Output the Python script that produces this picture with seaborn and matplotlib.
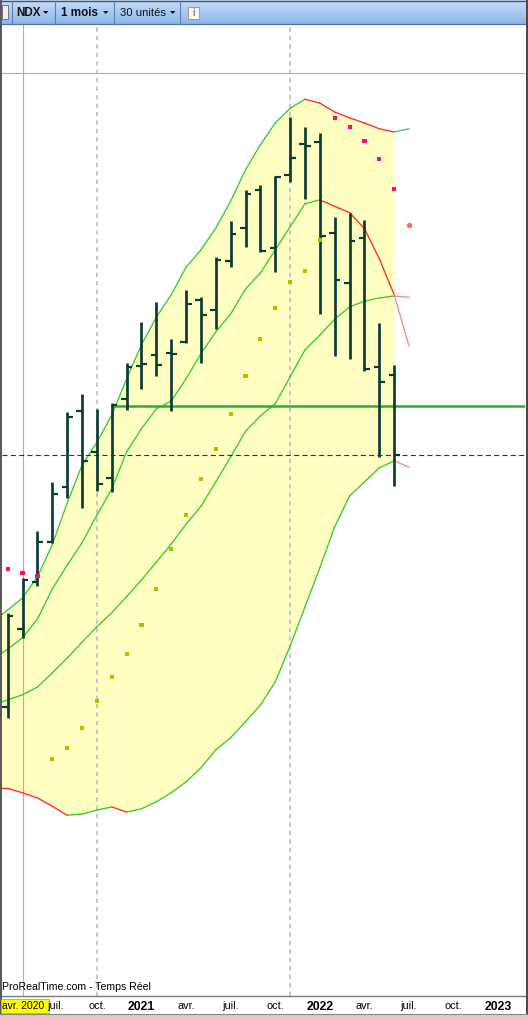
import numpy as np
import pandas as pd
import matplotlib
matplotlib.use("Agg")
import matplotlib.pyplot as plt
import seaborn as sns
from matplotlib.patches import Rectangle
from matplotlib.colors import LinearSegmentedColormap

# ---------------- data (NDX monthly) ----------------
months = pd.period_range("2020-04", "2022-06", freq="M").strftime("%Y-%m").tolist()

open_ = [7570, 8790, 9520, 10140, 11000, 12190, 11550, 11140, 12370, 12890, 13060, 13090, 13260,
         13920, 13760, 14530, 15040, 15630, 14730, 15870, 16350, 16380, 14960, 14180, 14890, 12870, 12750]
high_ = [9040, 9580, 10310, 11080, 12170, 12450, 12220, 12310, 12940, 13580, 13890, 13310, 14070,
         13960, 14590, 15150, 15630, 15710, 15850, 16770, 16620, 16520, 15210, 15280, 15170, 13560, 12900]
low_ = [7400, 8650, 9460, 10130, 10830, 10670, 10940, 10920, 12200, 12530, 12730, 12190, 13250,
        12940, 13470, 14430, 14750, 14670, 14360, 15760, 15490, 13700, 13040, 13000, 12810, 11470, 11020]
close_ = [8990, 9550, 10140, 10890, 12090, 11410, 11050, 12280, 12870, 12920, 12900, 13080, 13860,
          13680, 14540, 14950, 15570, 14680, 15840, 16130, 16320, 14920, 14230, 14840, 12840, 12640, 11500]

# bands: from 2020-03 (off the left edge) to 2022-07 (projection)
band_months = pd.period_range("2020-03", "2022-07", freq="M").strftime("%Y-%m").tolist()
upper_band = [8900, 9080, 9270, 9600, 10100, 10750, 11340, 11700, 12120, 12690, 13220, 13650, 14000,
              14430, 14700, 15040, 15460, 15950, 16340, 16680, 16910, 17050, 16990, 16850, 16760,
              16680, 16590, 16540, 16590]
inner_line = [8320, 8470, 8650, 8940, 9410, 9780, 10130, 10560, 10970, 11550, 11910, 12220, 12340,
              12690, 13080, 13420, 13700, 14090, 14340, 14700, 15060, 15420, 15480, 15380, 15280,
              15030, 14560, 14000, 13200]
middle_band = [7600, 7680, 7760, 7880, 8100, 8330, 8580, 8820, 9040, 9290, 9550, 9830, 10110,
               10420, 10700, 11080, 11470, 11870, 12110, 12300, 12720, 13140, 13370, 13620, 13810,
               13900, 13950, 13980, 13960]
lower_band = [6300, 6300, 6230, 6150, 6020, 5880, 5900, 5960, 6010, 5930, 5980, 6090, 6230,
              6400, 6620, 6900, 7090, 7340, 7600, 7960, 8520, 9130, 9740, 10380, 10860,
              11080, 11300, 11410, 11310]

# parabolic SAR
sar = [9720, 9660, 9610, 6760, 6930, 7240, 7660, 8040, 8400, 8850, 9410, 10030, 10560,
       11130, 11590, 12140, 12730, 13310, 13790, 14200, 14370, 14850, 16760, 16620, 16400, 16120, 15650]
sar_side = ["above"] * 3 + ["below"] * 19 + ["above"] * 5
sar_next_month = "2022-07"
sar_next = 15090

support_level = 12260
support_from = "2020-11"
last_price = 11500
cursor_price = 17460
cursor_month = "2020-05"
grid_months = ["2020-10", "2021-11"]

tick_months = ["2020-04", "2020-07", "2020-10", "2021-01", "2021-04", "2021-07", "2021-10",
               "2022-01", "2022-04", "2022-07", "2022-10", "2023-01"]
tick_labels = ["", "juil.", "oct.", "2021", "avr.", "juil.", "oct.", "2022", "avr.", "juil.", "oct.", "2023"]
first_label = "avr. 2020"

# ---------------- helpers ----------------
base = pd.Period("2020-04", freq="M")


def mi(m):
    return (pd.Period(m, freq="M") - base).n


x = np.array([mi(m) for m in months])
bx = np.array([mi(m) for m in band_months])

# ---------------- figure ----------------
sns.set_style("white")
plt.rcParams["font.family"] = ["Liberation Sans", "DejaVu Sans"]

W, H = 528, 1017
fig = plt.figure(figsize=(W / 100, H / 100), dpi=100)
fig.patch.set_facecolor("white")
ax = fig.add_axes([2 / W, (H - 996) / H, 523 / W, 972 / H])
ax.set_facecolor("white")

# yellow band fill (up to the last bar)
ax.fill_between(bx[:-1], upper_band[:-1], lower_band[:-1], color="#ffffc2", lw=0, zorder=0.5)

# grid / cursor lines
for gm in grid_months:
    ax.axvline(mi(gm), color="#c8c8c8", lw=1.45, ls=(0, (2.2, 2.0)), zorder=1.5)
ax.axvline(mi(cursor_month), color="#f29292", lw=0.8, zorder=1.6)
ax.axhline(cursor_price, color="#f29292", lw=0.8, zorder=1.6)

# band lines, coloured by direction
rows = []
seg = 0
for vals in [upper_band, inner_line, middle_band, lower_band]:
    for j in range(len(bx) - 1):
        v0, v1 = vals[j], vals[j + 1]
        kind = "up" if v1 > v0 else "down"
        if j == len(bx) - 2:
            kind += "_proj"
        rows.append((bx[j], v0, seg, kind))
        rows.append((bx[j + 1], v1, seg, kind))
        seg += 1
segdf = pd.DataFrame(rows, columns=["x", "y", "seg", "kind"])
pal = {"up": "#33cc33", "down": "#ff2a2a", "up_proj": "#5fae86", "down_proj": "#ff8585"}
sns.lineplot(data=segdf, x="x", y="y", units="seg", hue="kind", estimator=None, sort=False,
             palette=pal, lw=0.95, legend=False, ax=ax, zorder=2)

# horizontal levels
xmax_idx = 34.8
ax.hlines(support_level, mi(support_from), xmax_idx + 1, color="#33aa33", lw=1.8, zorder=2.5)
ax.axhline(last_price, color="#25259a", lw=0.8, ls=(0, (4.5, 3.0)), zorder=2.6)

# OHLC bars
bar_col = "#0b3b33"
hl = pd.DataFrame({"x": np.repeat(x, 2), "y": np.column_stack([low_, high_]).ravel(),
                   "bar": np.repeat(x, 2)})
sns.lineplot(data=hl, x="x", y="y", units="bar", estimator=None, sort=False, color=bar_col,
             lw=1.95, ax=ax, zorder=3, solid_capstyle="butt")
tl = 0.38
op = pd.DataFrame({"x": np.column_stack([x - tl, x]).ravel(), "y": np.repeat(open_, 2),
                   "bar": np.repeat(x, 2)})
cl = pd.DataFrame({"x": np.column_stack([x, x + tl]).ravel(), "y": np.repeat(close_, 2),
                   "bar": np.repeat(x, 2)})
for d in (op, cl):
    sns.lineplot(data=d, x="x", y="y", units="bar", estimator=None, sort=False, color=bar_col,
                 lw=1.55, ax=ax, zorder=3, solid_capstyle="butt")

# SAR dots
sdf = pd.DataFrame({"x": x, "y": sar, "side": sar_side})
sns.scatterplot(data=sdf, x="x", y="y", hue="side", palette={"above": "#ff0a6c", "below": "#99cc00"},
                marker="s", s=9, linewidth=0, legend=False, ax=ax, zorder=4)
sns.scatterplot(x=[mi(sar_next_month)], y=[sar_next], color="#ff6a55", marker="o", s=15,
                linewidth=0, ax=ax, zorder=4)

# axes formatting
ax.set_xlim(-0.383, xmax_idx)
ax.set_ylim(3060, 18224)
ax.set_yticks([])
ax.set_xlabel("")
ax.set_ylabel("")
for s in ["left", "right", "top"]:
    ax.spines[s].set_visible(False)
ax.spines["bottom"].set_color("#7a7a7a")
ax.spines["bottom"].set_linewidth(1.0)
ax.set_xticks([mi(m) for m in tick_months])
labels_shown = [("" if i == 1 else t) for i, t in enumerate(tick_labels)]
ax.set_xticklabels(labels_shown)
ax.tick_params(axis="x", direction="out", length=2.5, width=0.8, color="#777777", pad=0.8,
               labelsize=7.8, labelcolor="black")
for lab in ax.get_xticklabels():
    if lab.get_text().isdigit():
        lab.set_fontweight("bold")
        lab.set_fontsize(8.8)

# ---------------- decoration overlay (pixel coordinates) ----------------
deco = fig.add_axes([0, 0, 1, 1], zorder=10)
deco.patch.set_alpha(0)
cmap = LinearSegmentedColormap.from_list("tb", ["#c6defc", "#8db5e8"])
deco.imshow(np.linspace(0, 1, 48)[:, None], extent=(0, W, 24, 0), cmap=cmap, aspect="auto",
            interpolation="bilinear", zorder=1)
deco.set_xlim(0, W)
deco.set_ylim(H, 0)
deco.axis("off")

deco.plot([0, W], [24, 24], color="#4f73a3", lw=0.9, zorder=2)
deco.plot([0, W], [0.5, 0.5], color="#555555", lw=1.0, zorder=2)
for sx in [12, 55, 114, 180]:
    deco.plot([sx, sx], [1, 24], color="#5f80ae", lw=0.8, zorder=2)
deco.add_patch(Rectangle((1.5, 5), 6, 14, facecolor="#f0f0f0", edgecolor="#666666", lw=0.6, zorder=2))

deco.text(16, 12.8, "NDX", fontsize=8.4, fontweight="bold", va="center", ha="left", color="#111111", zorder=3)
deco.text(61, 12.8, "1 mois", fontsize=8.4, fontweight="bold", va="center", ha="left", color="#111111", zorder=3)
deco.text(120, 12.8, "30 unités", fontsize=8.1, va="center", ha="left", color="#111111", zorder=3)
for tx in [43, 103, 170]:
    deco.fill([tx, tx + 5.5, tx + 2.75], [11, 11, 14], color="#111111", lw=0, zorder=3)
deco.add_patch(Rectangle((188, 7), 11, 12, facecolor="#f6f6f6", edgecolor="#9a9a9a", lw=0.7, zorder=3))
deco.text(193.5, 13.2, "i", fontsize=7, fontweight="bold", color="#8a8a8a", ha="center", va="center", zorder=4)

# window borders
deco.add_patch(Rectangle((0, 0), 2, H, facecolor="#5a5a5a", lw=0, zorder=5))
deco.add_patch(Rectangle((525.5, 0), 2.5, H, facecolor="#4a4a4a", lw=0, zorder=5))
deco.add_patch(Rectangle((0, 1013.5), W, 3.5, facecolor="#cfcfcf", lw=0, zorder=5))
deco.plot([0, W], [1013.5, 1013.5], color="#8a8a8a", lw=0.8, zorder=5)

# source text and first date label
deco.text(2.5, 987.5, "ProRealTime.com - Temps Réel", fontsize=7.6, color="black", ha="left",
          va="center", zorder=6)
deco.add_patch(Rectangle((1, 998.5), 48, 14.5, facecolor="#ffff00", edgecolor="#c8b400", lw=0.6, zorder=6))
deco.text(2.5, 1006, first_label, fontsize=7.4, color="black", ha="left", va="center", zorder=7)
deco.text(56, 1006, tick_labels[1], fontsize=7.8, color="black", ha="center", va="center", zorder=7)

fig.savefig("out.png", dpi=100, facecolor="white")
